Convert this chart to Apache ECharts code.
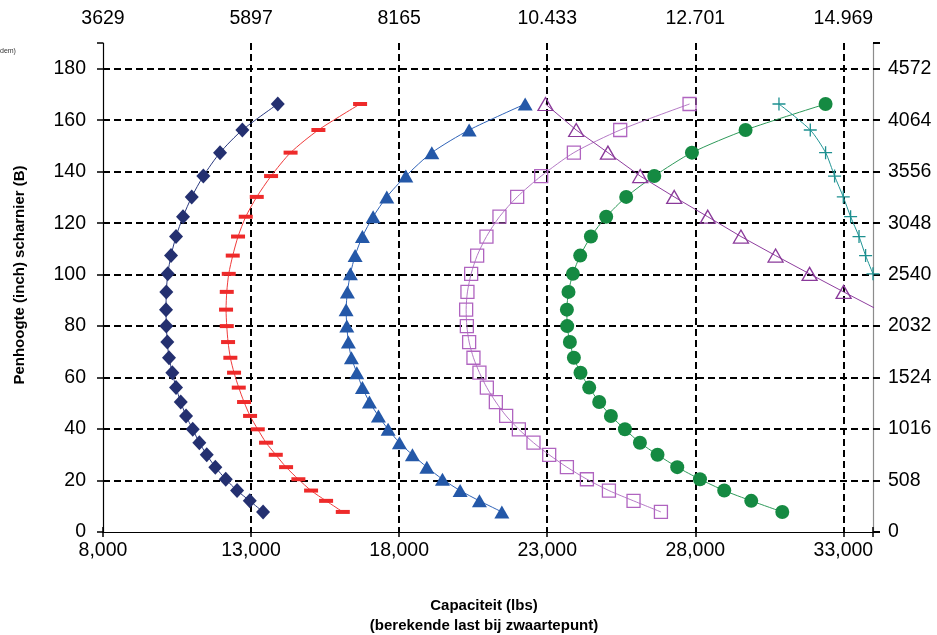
<!DOCTYPE html>
<html>
<head>
<meta charset="utf-8">
<script src="https://cdn.jsdelivr.net/npm/echarts@6/dist/echarts.min.js"></script>
<style>
html,body{margin:0;padding:0;background:#fff;}
#chart{width:937px;height:635px;}
</style>
</head>
<body>
<div id="chart"></div>
<script>
// Pen height (inch), shared by all curves, bottom to top
const heightInch = [7.8,12.1,16.1,20.5,25.2,30.0,34.7,39.9,45.1,50.5,56.1,61.9,67.7,73.8,80.0,86.4,93.3,100.3,107.4,114.8,122.5,130.2,138.3,147.4,156.2,166.3];

// Capacity (lbs) per curve, same order as heightInch
const navyDiamond = [13405,12956,12527,12145,11793,11503,11253,11030,10804,10625,10466,10341,10229,10172,10138,10128,10138,10186,10297,10466,10702,10996,11388,11952,12706,13901];
const redDash = [16097,15533,15026,14597,14182,13834,13506,13226,12966,12763,12584,12425,12300,12223,12179,12155,12179,12246,12381,12560,12820,13192,13675,14334,15273,16681];
const blueTriangle = [21468,20711,20059,19462,18935,18448,18009,17627,17300,16996,16759,16570,16388,16286,16232,16209,16253,16354,16513,16759,17121,17583,18225,19103,20363,22255];
const violetSquare = [26839,25914,25083,24339,23664,23066,22536,22042,21613,21265,20961,20711,20509,20363,20286,20262,20306,20431,20634,20948,21387,21985,22796,23900,25464,27805];
const greenCircle = [30937,29889,28977,28157,27390,26724,26130,25623,25150,24755,24417,24123,23900,23765,23674,23664,23718,23867,24113,24475,24991,25667,26613,27886,29697,32399];
// these start at heightInch[15] and heightInch[17]
const purpleOpenTriangle = [34156,33007,31859,30710,29541,28420,27288,26140,25049,23978,22941];
const tealPlus = [34000,33750,33528,33244,32997,32703,32399,31882,30825];

// tick labels
const xTickValues = [8000,13000,18000,23000,28000,33000];
const xBottomLabels = ['8,000','13,000','18,000','23,000','28,000','33,000'];
const xTopLabels = ['3629','5897','8165','10.433','12.701','14.969'];
const yLeftTicks = [0,20,40,60,80,100,120,140,160,180];
const yRightTicks = [0,508,1016,1524,2032,2540,3048,3556,4064,4572];
const yRightLabels = ['0','508','1016','1524','2032','2540','3048','3556','4064','4572'];

const FONT = '"Liberation Sans", Arial, sans-serif';

function pairs(xs, startIdx) {
  return xs.map((x, i) => [x, heightInch[startIdx + i]]);
}

const chart = echarts.init(document.getElementById('chart'), null, {renderer: 'canvas'});

const gridDash = {color: '#000', width: 2, type: [7, 4]};
const labelStyle = {color: '#000', fontSize: 19.5, fontFamily: FONT};

function lineSeries(name, data, color, symbol, size, item, extra) {
  return Object.assign({
    name: name,
    type: 'line',
    data: data,
    symbol: symbol,
    symbolSize: size,
    smooth: 0.25,
    clip: true,
    lineStyle: {color: color, width: 1},
    itemStyle: item,
    emphasis: {disabled: true},
    animation: false,
    z: 3
  }, extra || {});
}

const option = {
  animation: false,
  backgroundColor: '#fff',
  grid: {left: 103, top: 43, right: 64, bottom: 103, containLabel: false},
  xAxis: [
    {
      type: 'value', position: 'bottom', min: 8000, max: 34000, interval: 5000,
      axisLine: {show: true, lineStyle: {color: '#000', width: 1.2}},
      axisTick: {show: true, length: 5, lineStyle: {color: '#000', width: 1.5}},
      axisLabel: Object.assign({margin: 9, formatter: v => {
        const i = xTickValues.indexOf(v); return i >= 0 ? xBottomLabels[i] : '';
      }}, labelStyle),
      splitLine: {show: true, showMinLine: false, showMaxLine: false, lineStyle: gridDash}
    },
    {
      type: 'value', position: 'top', min: 8000, max: 34000, interval: 5000,
      axisLine: {show: true, lineStyle: {color: '#000', width: 1.2}},
      axisTick: {show: true, length: 5, lineStyle: {color: '#000', width: 1.5}},
      axisLabel: Object.assign({margin: 14, formatter: v => {
        const i = xTickValues.indexOf(v); return i >= 0 ? xTopLabels[i] : '';
      }}, labelStyle),
      splitLine: {show: false}
    }
  ],
  yAxis: [
    {
      type: 'value', position: 'left', min: 0, max: 190, interval: 20,
      axisLine: {show: true, lineStyle: {color: '#000', width: 1.2}},
      axisTick: {show: true, length: 6, lineStyle: {color: '#000', width: 1.5}},
      axisLabel: Object.assign({margin: 17, formatter: v => yLeftTicks.indexOf(v) >= 0 ? String(v) : ''}, labelStyle),
      splitLine: {show: true, showMinLine: false, showMaxLine: false, lineStyle: gridDash}
    },
    {
      type: 'value', position: 'right', min: 0, max: 190 * 25.4, interval: 508,
      axisLine: {show: true, lineStyle: {color: '#8c8c8c', width: 1.2}},
      axisTick: {show: true, length: 7, lineStyle: {color: '#000', width: 2}},
      axisLabel: Object.assign({margin: 15, formatter: v => {
        const i = yRightTicks.indexOf(v); return i >= 0 ? yRightLabels[i] : '';
      }}, labelStyle),
      splitLine: {show: false}
    }
  ],
  series: [
    lineSeries('diamond', pairs(navyDiamond, 0), '#2b3a80', 'diamond', [14, 15],
      {color: '#243070'}),
    lineSeries('dash', pairs(redDash, 0), '#f03a3a', 'rect', [14, 4],
      {color: '#ee2a2a'}),
    lineSeries('triangle', pairs(blueTriangle, 0), '#2f63b8', 'triangle', [15, 13],
      {color: '#2458a8'}),
    lineSeries('square', pairs(violetSquare, 0), '#b57ac6', 'rect', [13, 13],
      {color: 'rgba(255,255,255,0)', borderColor: '#b064c0', borderWidth: 1.3}),
    lineSeries('circle', pairs(greenCircle, 0), '#2e9a5a', 'circle', 14,
      {color: '#158a42'}),
    lineSeries('openTriangle', pairs(purpleOpenTriangle, 15), '#8e3e9e', 'triangle', [15, 13],
      {color: 'rgba(255,255,255,0)', borderColor: '#8a3a9a', borderWidth: 1.3}, {smooth: false}),
    lineSeries('plus', pairs(tealPlus, 17), '#1f9494', 'path://M0,6L12,6M6,0L6,12', 13,
      {color: 'rgba(255,255,255,0)', borderColor: '#1d9090', borderWidth: 1.3})
  ],
  graphic: [
    {type: 'text', left: 0, top: 48, silent: true,
      style: {text: 'dem)', fontSize: 7, fontFamily: FONT, fill: '#333'}},
    {type: 'text', x: 20, y: 275, rotation: Math.PI / 2, silent: true,
      style: {text: 'Penhoogte (inch) scharnier (B)', fontSize: 15, fontWeight: 'bold', fontFamily: FONT,
        fill: '#000', align: 'center', verticalAlign: 'middle', textAlign: 'center', textVerticalAlign: 'middle'}},
    {type: 'text', x: 484, y: 606, silent: true,
      style: {text: 'Capaciteit (lbs)', fontSize: 15, fontWeight: 'bold', fontFamily: FONT,
        fill: '#000', align: 'center', verticalAlign: 'middle', textAlign: 'center', textVerticalAlign: 'middle'}},
    {type: 'text', x: 484, y: 626, silent: true,
      style: {text: '(berekende last bij zwaartepunt)', fontSize: 15, fontWeight: 'bold', fontFamily: FONT,
        fill: '#000', align: 'center', verticalAlign: 'middle', textAlign: 'center', textVerticalAlign: 'middle'}}
  ]
};

chart.setOption(option);
</script>
</body>
</html>
